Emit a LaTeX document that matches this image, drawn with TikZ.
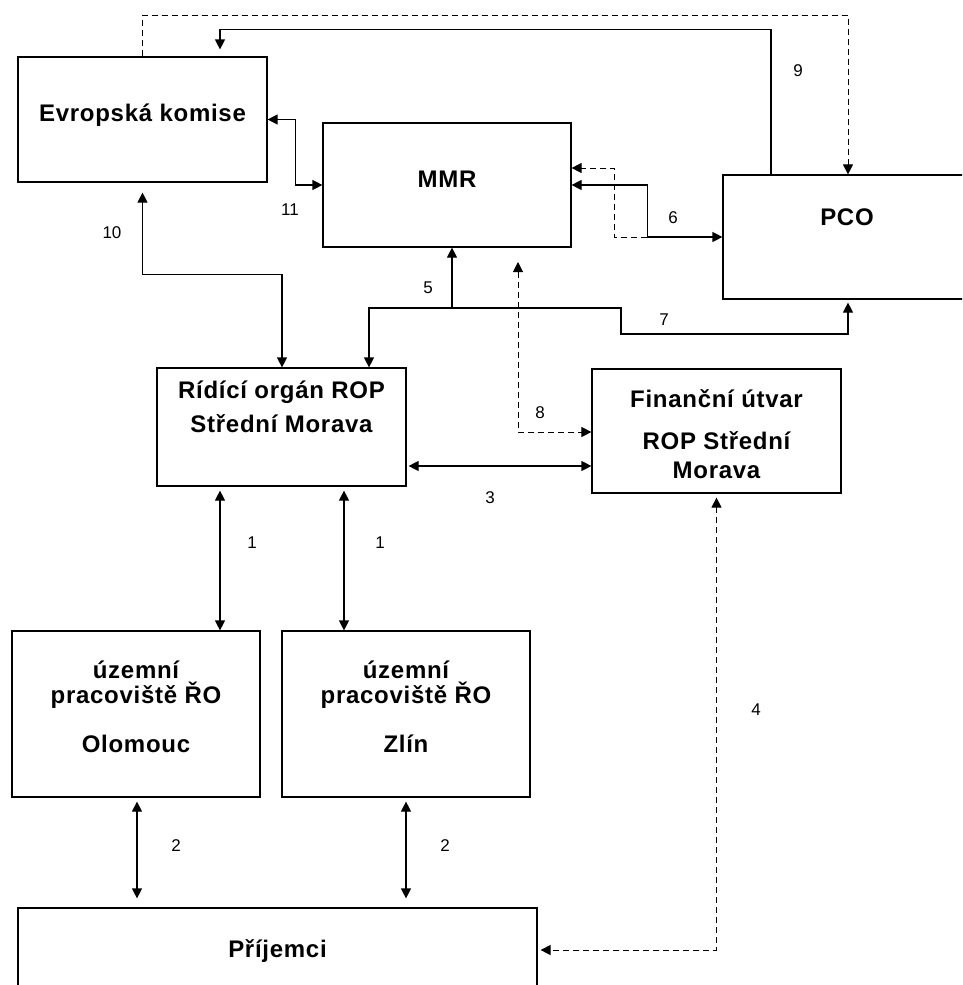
\documentclass[tikz,border=0pt]{standalone}
\usepackage{fontspec}
\setmainfont{Liberation Sans}
\newfontfamily\boxfont[LetterSpace=3]{Liberation Sans}
\usetikzlibrary{arrows.meta,calc}
\tikzset{
  >={Triangle[length=10pt,width=10pt]},
  box/.style={draw,line width=1.2pt,inner sep=0pt},
  ln/.style={line width=1.2pt},
  dsh/.style={line width=1pt,dash pattern=on 6pt off 4pt},
  lbl/.style={font=\fontsize{17}{17}\selectfont,anchor=base,inner sep=0pt},
  btxt/.style={font=\boxfont\bfseries\fontsize{24}{24}\selectfont,anchor=base,inner sep=0pt}
}
\begin{document}
\begin{tikzpicture}[x=1pt,y=-1pt]
\useasboundingbox (0,0) rectangle (962,985);
\fill[white] (0,0) rectangle (962,985);
\clip (0,0) rectangle (962,985);

% boxes
\node[box,minimum width=249pt,minimum height=125pt] (ek) at (142.5,119.5) {};
\node[box,minimum width=248pt,minimum height=124pt] (mmr) at (447,185) {};
\node[box,minimum width=248pt,minimum height=124pt] (pco) at (847,237) {};
\node[box,minimum width=249pt,minimum height=118pt] (ro) at (281.5,427) {};
\node[box,minimum width=249pt,minimum height=124pt] (fin) at (716.5,431) {};
\node[box,minimum width=248pt,minimum height=166pt] (olo) at (136,714) {};
\node[box,minimum width=248pt,minimum height=166pt] (zlin) at (406,714) {};
\node[box,minimum width=519pt,minimum height=84pt] (prij) at (277.5,950) {};

% box texts
\node[btxt] (ekt) at (142.5,121) {Evropská komise};
\node[btxt] (mmrt) at (447,187) {MMR};
\node[btxt] (pcot) at (847,225) {PCO};
\node[btxt] (rot1) at (281.5,398) {Rídící orgán ROP};
\node[btxt] (rot2) at (281.5,432) {Střední Morava};
\node[btxt] (fint1) at (716.5,407) {Finanční útvar};
\node[btxt] (fint2) at (716.5,449) {ROP Střední};
\node[btxt] (fint3) at (716.5,478) {Morava};
\node[btxt] (olot1) at (136,678) {územní};
\node[btxt] (olot2) at (136,703) {pracoviště ŘO};
\node[btxt] (olot3) at (136,752) {Olomouc};
\node[btxt] (zlint1) at (406,678) {územní};
\node[btxt] (zlint2) at (406,703) {pracoviště ŘO};
\node[btxt] (zlint3) at (406,752) {Zlín};
\node[btxt] (prijt) at (277.5,957) {Příjemci};

% connectors
\draw[dsh,->] (ek.north) -- ++(0,-41) -| ([xshift=1pt]pco.north);
\draw[ln,->,shorten >=7pt] ([xshift=-76pt]pco.north) -- ++(0,-145) -| ([xshift=77.5pt]ek.north);
\draw[ln,<->] (ek.east) -- ++(27.5,0) |- (mmr.west);
\draw[ln,<->,shorten <=10pt] (ek.south) -- ++(0,92) -| ([xshift=0.5pt]ro.north);

\coordinate (j5) at (452,308);
\coordinate (j7) at (621,308);
\draw[ln,->] (j5) -- ([xshift=5pt]mmr.south);
\draw[ln,->] (j5) -| ([xshift=87.5pt]ro.north);
\draw[ln,->,shorten >=3pt] (j5) -- (j7) -- ++(0,26) -| ([xshift=1pt]pco.south);

\draw[ln,<->] (mmr.east) -- ++(76,0) |- (pco.west);
\coordinate (c6) at (647,237);
\draw[dsh,->] (c6) -- ++(-33,0) |- ([yshift=17pt]mmr.east);

\coordinate (c8) at (518,262);
\draw[dsh,<->] (c8) |- ([yshift=-1pt]fin.west);

\coordinate (c3) at ([yshift=-39pt]ro.east);
\draw[ln,<->,shorten <=2pt] (c3) -- (c3 -| fin.west);

\coordinate (c1a) at ([xshift=-61.5pt]ro.south);
\coordinate (c1b) at ([xshift=62.5pt]ro.south);
\draw[ln,<->,shorten <=4pt] (c1a) -- (c1a |- olo.north);
\draw[ln,<->,shorten <=4pt] (c1b) -- (c1b |- zlin.north);

\coordinate (c2a) at ([xshift=1pt]olo.south);
\coordinate (c2b) at (zlin.south);
\draw[ln,<->,shorten <=4pt,shorten >=9pt] (c2a) -- (c2a |- prij.north);
\draw[ln,<->,shorten <=4pt,shorten >=9pt] (c2b) -- (c2b |- prij.north);

\draw[dsh,<->,shorten <=4pt,shorten >=3pt] (fin.south) |- (prij.east);

% labels
\node[lbl] (l9) at (798,76) {9};
\node[lbl] (l11) at (290,215) {11};
\node[lbl] (l10) at (112,238) {10};
\node[lbl] (l6) at (673,223) {6};
\node[lbl] (l5) at (428,293) {5};
\node[lbl] (l7) at (664,325) {7};
\node[lbl] (l8) at (540,418) {8};
\node[lbl] (l3) at (490,503) {3};
\node[lbl] (l1a) at (252,548) {1};
\node[lbl] (l1b) at (380,548) {1};
\node[lbl] (l2a) at (176,851) {2};
\node[lbl] (l2b) at (445,851) {2};
\node[lbl] (l4) at (756,715) {4};
\end{tikzpicture}
\end{document}
